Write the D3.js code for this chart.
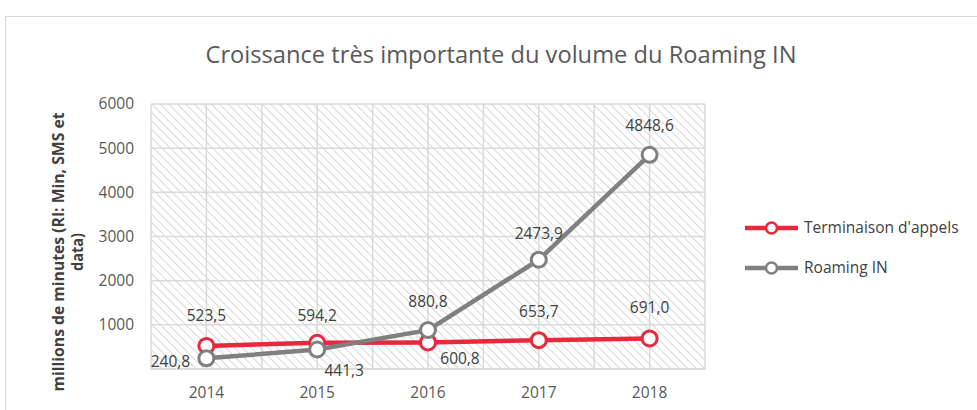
<!DOCTYPE html>
<html>
<head>
<meta charset="utf-8">
<script src="https://cdnjs.cloudflare.com/ajax/libs/d3/7.8.5/d3.min.js"></script>
<style>
  body { margin: 0; background: #fff; }
  text { font-family: "Open Sans", sans-serif; }
</style>
</head>
<body>
<script>
// data
let years = ['2014', '2015', '2016', '2017', '2018'];
let terminaison = [523.5, 594.2, 600.8, 653.7, 691.0];
let roaming = [240.8, 441.3, 880.8, 2473.9, 4848.6];
let yTicks = [1000, 2000, 3000, 4000, 5000, 6000];
let seriesNames = ["Terminaison d'appels", 'Roaming IN'];

// label nudges (pixels) as placed in the original
let termLabelOff = [[0, -30], [0, -27], [32, 16], [0, -29], [0, -31]];
let roamLabelOff = [[-36, 3], [27, 21], [0, -29], [0, -26], [0, -29]];

let width = 977, height = 410,
    margins = {top: 104, right: 272, bottom: 41, left: 151};

let svg = d3.select('body').append('svg')
    .attr('width', width)
    .attr('height', height);

// chart frame
svg.append('rect')
    .attr('x', 5.5).attr('y', 16.5)
    .attr('width', width + 10).attr('height', height + 10)
    .attr('fill', 'none').attr('stroke', '#d9d9d9').attr('stroke-width', 1);

let defs = svg.append('defs');
let pat = defs.append('pattern')
    .attr('id', 'hatch')
    .attr('patternUnits', 'userSpaceOnUse')
    .attr('width', 6).attr('height', 6)
    .attr('patternTransform', 'rotate(-45)');
pat.append('line')
    .attr('x1', 0).attr('y1', 0).attr('x2', 0).attr('y2', 6)
    .attr('stroke', '#d9d9d9').attr('stroke-width', 2);

let plotW = width - margins.left - margins.right,
    plotH = height - margins.top - margins.bottom;

let g = svg.append('g')
    .attr('transform', `translate(${margins.left},${margins.top})`);

let xScale = d3.scalePoint().domain(years).range([0, plotW]).padding(0.5);
let step = xScale.step();
let yScale = d3.scaleLinear().domain([0, 6000]).range([plotH, 0]);

g.append('rect')
    .attr('width', plotW).attr('height', plotH)
    .attr('fill', 'url(#hatch)');

// horizontal gridlines
g.selectAll('line.hgrid')
    .data(yTicks)
    .enter().append('line')
    .classed('hgrid', true)
    .attr('x1', 0).attr('x2', plotW)
    .attr('y1', d => yScale(d)).attr('y2', d => yScale(d))
    .attr('stroke', '#d9d9d9').attr('stroke-width', 1.5);

// vertical gridlines (category edges and centres)
let vlines = [];
for (let i = 0; i <= years.length * 2; i++) vlines.push(i * step / 2);
g.selectAll('line.vgrid')
    .data(vlines)
    .enter().append('line')
    .classed('vgrid', true)
    .attr('x1', d => d).attr('x2', d => d)
    .attr('y1', 0).attr('y2', plotH)
    .attr('stroke', '#d9d9d9').attr('stroke-width', 1.5);

// x axis line
g.append('line')
    .attr('x1', 0).attr('x2', plotW)
    .attr('y1', plotH).attr('y2', plotH)
    .attr('stroke', '#d0d0d0').attr('stroke-width', 1.5);

// y tick labels
g.selectAll('text.ytick')
    .data(yTicks)
    .enter().append('text')
    .classed('ytick', true)
    .attr('x', -17).attr('y', d => yScale(d))
    .attr('dy', '0.35em')
    .attr('text-anchor', 'end')
    .attr('font-size', 15.5)
    .attr('fill', '#595959')
    .text(d => d);

// x tick labels
g.selectAll('text.xtick')
    .data(years)
    .enter().append('text')
    .classed('xtick', true)
    .attr('x', d => xScale(d)).attr('y', plotH + 29)
    .attr('text-anchor', 'middle')
    .attr('font-size', 15.5)
    .attr('fill', '#595959')
    .text(d => d);

// y axis title
let yt = svg.append('text')
    .attr('transform', `translate(64,252) rotate(-90)`)
    .attr('text-anchor', 'middle')
    .attr('font-size', 16.5)
    .attr('font-weight', 'bold')
    .attr('fill', '#404040');
yt.append('tspan').attr('x', 0).attr('dy', 0)
    .attr('textLength', 279).attr('lengthAdjust', 'spacingAndGlyphs')
    .text('millions de minutes (RI: Min, SMS et');
yt.append('tspan').attr('x', 0).attr('dy', 19)
    .attr('textLength', 38).attr('lengthAdjust', 'spacingAndGlyphs')
    .text('data)');

// title
svg.append('text')
    .attr('x', 501).attr('y', 63)
    .attr('text-anchor', 'middle')
    .attr('font-size', 24)
    .attr('fill', '#595959')
    .attr('textLength', 591)
    .attr('lengthAdjust', 'spacingAndGlyphs')
    .text('Croissance très importante du volume du Roaming IN');

let colors = ['#e8283c', '#808080'];
let line = d3.line().x((d, i) => xScale(years[i])).y(d => yScale(d));

function drawSeries(values, color, offsets){
    g.append('path')
        .datum(values)
        .attr('d', line)
        .attr('fill', 'none')
        .attr('stroke', color)
        .attr('stroke-width', 4.5)
        .attr('stroke-linejoin', 'round');
    g.selectAll(null)
        .data(values)
        .enter().append('circle')
        .attr('cx', (d, i) => xScale(years[i]))
        .attr('cy', d => yScale(d))
        .attr('r', 7.5)
        .attr('fill', '#fff')
        .attr('stroke', color)
        .attr('stroke-width', 3);
    g.selectAll(null)
        .data(values)
        .enter().append('text')
        .attr('x', (d, i) => xScale(years[i]) + offsets[i][0])
        .attr('y', (d, i) => yScale(d) + offsets[i][1])
        .attr('dy', '0.35em')
        .attr('text-anchor', 'middle')
        .attr('font-size', 15.5)
        .attr('fill', '#404040')
        .text(d => d3.format('.1f')(d).replace('.', ','));
}

// terminaison first, roaming drawn on top like the original
drawSeries(terminaison, colors[0], termLabelOff);
drawSeries(roaming, colors[1], roamLabelOff);

// legend
let legend = svg.append('g').attr('transform', 'translate(745,228)');
seriesNames.forEach((name, i) => {
    let row = legend.append('g').attr('transform', `translate(0,${i * 40})`);
    row.append('line')
        .attr('x1', 0).attr('x2', 53).attr('y1', 0).attr('y2', 0)
        .attr('stroke', colors[i]).attr('stroke-width', 4.5);
    row.append('circle')
        .attr('cx', 26.5).attr('cy', 0).attr('r', 5.5)
        .attr('fill', '#fff').attr('stroke', colors[i]).attr('stroke-width', 2.5);
    row.append('text')
        .attr('x', 59).attr('y', 0).attr('dy', '0.35em')
        .attr('font-size', 15.5)
        .attr('fill', '#404040')
        .text(name);
});
</script>
</body>
</html>
